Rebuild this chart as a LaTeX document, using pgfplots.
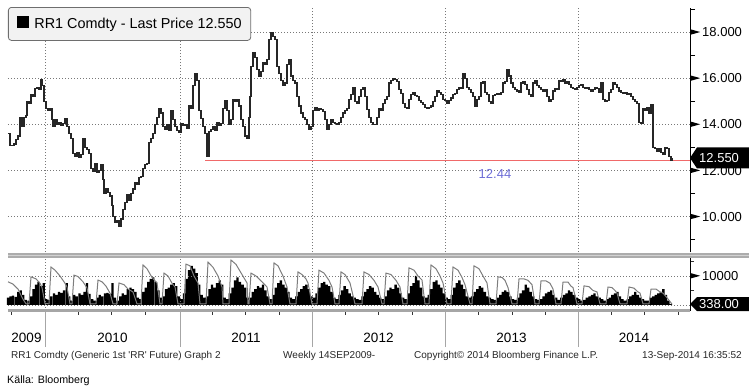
\documentclass[border=0pt]{standalone}
\usepackage{pgfplots}
\pgfplotsset{compat=1.18}
\usepackage{pgfplotstable}
\usepackage{fontspec}
\setmainfont{Liberation Sans}
\definecolor{gridgray}{RGB}{120,120,120}
\definecolor{redline}{RGB}{240,105,105}
\definecolor{lbl}{RGB}{110,110,215}
\definecolor{oigray}{RGB}{125,125,125}
\definecolor{legfill}{RGB}{242,242,242}
\definecolor{legdraw}{RGB}{110,110,110}

\pgfplotstableread{
x y
8 13.60
10 13.10
12 13.10
14 13.15
16 13.35
18 13.50
20 14.30
22 13.90
24 14.30
26 14.40
27 15.00
29 14.90
31 15.30
33 15.20
35 15.55
37 15.60
39 15.50
41 15.95
42 15.70
44 15.00
46 14.70
48 14.60
50 14.70
52 14.20
53 13.90
55 14.20
57 14.00
59 14.10
61 13.95
63 14.05
65 14.25
67 13.90
69 13.60
71 13.40
73 12.75
75 12.60
77 12.80
79 12.55
81 12.70
83 13.40
85 13.00
87 12.90
89 12.75
91 12.10
93 11.95
95 12.30
97 11.90
99 12.00
101 12.25
103 11.60
104 11.00
106 11.20
108 11.05
110 10.90
112 10.50
113 10.00
115 9.75
117 9.85
119 9.60
121 9.90
123 10.30
125 10.60
127 10.95
129 10.70
131 11.00
133 11.20
135 11.50
137 11.40
139 11.70
141 11.75
143 12.10
145 12.25
147 12.30
149 13.20
151 13.40
153 13.60
155 14.00
157 14.30
159 14.70
161 14.50
163 13.90
165 13.80
167 14.00
169 13.75
171 14.60
173 14.20
175 13.90
177 13.75
179 13.65
181 14.05
183 13.95
185 14.00
187 13.85
189 14.80
191 14.70
193 15.70
195 16.20
197 15.90
199 14.60
201 14.25
203 13.90
205 13.60
207 12.60
209 13.70
211 13.80
213 13.90
215 13.75
217 14.10
219 13.95
221 14.05
223 14.70
225 15.05
227 14.60
229 14.00
231 14.20
233 15.10
235 15.00
237 15.10
239 14.80
241 14.20
243 13.90
245 13.50
247 13.40
249 14.30
250 15.20
251 16.50
253 17.10
255 16.90
257 16.40
259 16.10
261 16.30
263 16.70
265 16.60
267 16.80
269 17.70
271 18.00
273 17.80
275 17.70
277 16.50
279 16.20
281 15.90
283 15.70
285 15.80
287 16.60
289 16.80
291 16.10
293 15.90
295 15.80
297 15.20
299 14.80
301 14.50
303 14.30
305 14.20
307 14.00
309 13.80
311 13.90
313 14.60
315 14.75
317 14.60
319 14.70
321 14.65
323 14.55
325 14.20
327 13.80
329 14.00
331 14.20
333 14.10
335 14.05
337 14.00
339 14.10
341 14.30
343 14.50
345 14.60
347 14.70
349 15.10
351 15.30
353 15.60
355 15.00
357 14.90
359 15.20
361 15.50
363 15.60
365 15.20
367 14.65
369 14.30
371 14.10
373 14.00
375 14.00
377 14.30
379 14.70
381 14.60
383 14.90
385 15.10
387 15.20
389 15.80
391 15.90
393 16.00
395 15.95
397 15.85
399 15.50
401 15.35
403 14.90
405 14.75
407 14.70
409 15.10
411 15.30
413 15.40
415 15.25
417 15.20
419 15.05
421 14.95
423 14.85
425 14.75
427 14.70
429 14.75
431 14.80
433 15.00
435 15.20
437 15.45
439 15.40
441 15.30
443 15.10
445 15.05
447 14.90
449 15.05
451 15.15
453 15.30
455 15.35
457 15.50
459 15.60
461 15.55
463 16.20
465 16.00
467 15.60
469 15.50
471 15.40
473 15.20
475 14.80
477 15.10
479 15.20
481 15.80
483 15.85
485 15.40
487 15.30
489 15.00
491 14.90
493 15.25
495 15.30
497 15.35
499 15.30
501 15.40
503 15.80
505 15.85
507 16.40
509 16.10
511 15.80
513 15.60
515 15.50
517 15.45
519 15.40
521 15.80
523 15.85
525 15.75
527 15.50
529 15.30
531 15.20
533 15.80
535 15.90
537 15.70
539 15.60
541 15.50
543 15.45
545 15.50
547 15.20
549 15.00
551 15.10
553 15.45
555 15.55
557 15.50
559 15.90
561 15.85
563 15.95
565 15.80
567 15.85
569 15.75
571 15.60
573 15.55
575 15.50
577 15.60
579 15.70
581 15.75
583 15.60
585 15.55
587 15.60
589 15.50
591 15.45
593 15.50
595 15.60
597 15.55
599 15.40
601 15.80
603 15.10
605 15.00
607 15.05
609 15.40
611 15.50
613 15.80
615 15.75
617 15.60
619 15.45
621 15.40
623 15.35
625 15.40
627 15.30
629 15.35
631 15.20
633 15.10
635 15.00
637 14.90
639 14.10
641 14.05
643 14.70
645 14.60
647 14.75
649 14.50
651 14.85
653 13.00
655 12.95
657 12.85
659 12.95
661 12.80
663 12.70
665 13.00
667 12.95
669 12.60
671 12.45
672 12.55
}\price

\pgfplotstableread[row sep=\\]{
w v\\
0 2500\\ 1 3000\\ 2 3200\\ 3 2800\\ 4 4500\\ 5 5000\\ 6 3500\\ 7 1800\\
8 1500\\ 9 3000\\ 10 5500\\ 11 7000\\ 12 8000\\ 13 6500\\ 14 7500\\ 15 2000\\
16 1800\\ 17 3000\\ 18 4000\\ 19 3500\\ 20 4500\\ 21 4200\\ 22 5000\\ 23 7500\\ 24 3000\\
25 1500\\ 26 3500\\ 27 3000\\ 28 4000\\ 29 3500\\ 30 4500\\ 31 7500\\ 32 3800\\ 33 2000\\ 34 1500\\
35 2500\\ 36 3500\\ 37 3000\\ 38 4000\\ 39 4200\\ 40 3800\\ 41 7500\\ 42 2500\\
43 1500\\ 44 3000\\ 45 4000\\ 46 3500\\ 47 5500\\ 48 6000\\ 49 5500\\ 50 4500\\ 51 2500\\
52 2000\\ 53 4500\\ 54 6000\\ 55 8000\\ 56 9000\\ 57 9500\\ 58 8000\\ 59 5000\\ 60 2500\\
61 3000\\ 62 5500\\ 63 6000\\ 64 7000\\ 65 7500\\ 66 6500\\ 67 3000\\ 68 2000\\
69 4000\\ 70 9000\\ 71 12000\\ 72 13500\\ 73 12500\\ 74 11000\\ 75 7000\\ 76 3500\\ 77 2500\\
78 3000\\ 79 5500\\ 80 7000\\ 81 6000\\ 82 7500\\ 83 8500\\ 84 7000\\ 85 2500\\ 86 2000\\
87 4000\\ 88 6000\\ 89 8500\\ 90 9500\\ 91 8000\\ 92 7000\\ 93 6000\\ 94 2500\\
95 2500\\ 96 4500\\ 97 5500\\ 98 6500\\ 99 6000\\ 100 7000\\ 101 5000\\ 102 3000\\ 103 2000\\
104 3500\\ 105 6000\\ 106 7500\\ 107 8500\\ 108 7000\\ 109 6000\\ 110 4500\\ 111 2500\\ 112 2000\\
113 3000\\ 114 4500\\ 115 5500\\ 116 6500\\ 117 7000\\ 118 5500\\ 119 3000\\ 120 2500\\
121 4000\\ 122 6000\\ 123 7500\\ 124 8000\\ 125 7000\\ 126 6500\\ 127 4500\\ 128 2500\\ 129 2000\\
130 3500\\ 131 5000\\ 132 6500\\ 133 5500\\ 134 4000\\ 135 3000\\ 136 2500\\ 137 2000\\ 138 1800\\
139 3000\\ 140 4500\\ 141 5500\\ 142 6500\\ 143 6000\\ 144 4500\\ 145 3500\\ 146 2500\\ 147 2000\\
148 3000\\ 149 5000\\ 150 6000\\ 151 5500\\ 152 7000\\ 153 6000\\ 154 4000\\ 155 2500\\ 156 2000\\
157 4000\\ 158 6500\\ 159 7500\\ 160 10000\\ 161 8500\\ 162 6000\\ 163 3000\\ 164 2500\\
165 3500\\ 166 5500\\ 167 8000\\ 168 8500\\ 169 7000\\ 170 6000\\ 171 4000\\ 172 2500\\ 173 2000\\
174 3500\\ 175 6000\\ 176 7500\\ 177 8500\\ 178 7000\\ 179 5500\\ 180 3000\\ 181 2500\\
182 3000\\ 183 4500\\ 184 5500\\ 185 6500\\ 186 6000\\ 187 4500\\ 188 3000\\ 189 2500\\ 190 2000\\ 191 1800\\
192 2500\\ 193 3500\\ 194 4500\\ 195 5000\\ 196 4500\\ 197 3000\\ 198 2000\\ 199 1800\\
200 2500\\ 201 4000\\ 202 5000\\ 203 7000\\ 204 6000\\ 205 4500\\ 206 3000\\ 207 2000\\ 208 1800\\
209 2000\\ 210 3000\\ 211 4000\\ 212 4500\\ 213 5000\\ 214 3500\\ 215 2500\\ 216 1800\\
217 2500\\ 218 3500\\ 219 4000\\ 220 5000\\ 221 4500\\ 222 3500\\ 223 2500\\ 224 2000\\ 225 1500\\
226 1800\\ 227 2500\\ 228 3000\\ 229 3500\\ 230 4000\\ 231 3000\\ 232 2500\\ 233 2000\\ 234 1500\\
235 2000\\ 236 2500\\ 237 3500\\ 238 4000\\ 239 4500\\ 240 3000\\ 241 2000\\ 242 1500\\
243 2000\\ 244 3000\\ 245 3500\\ 246 4500\\ 247 3500\\ 248 2500\\ 249 2000\\ 250 1500\\ 251 1500\\
252 2500\\ 253 3000\\ 254 3500\\ 255 4000\\ 256 4500\\ 257 5500\\ 258 3500\\ 259 1500\\ 260 338\\
}\vol

\pgfplotstableread{
x y
8 8000
13 7200
18 5500
23 2000
26 400
29 400
31 9700
36 9000
40 7500
42 6000
45 500
49 400
51 13100
55 12000
60 10000
65 7500
67 6200
70 400
72 400
74 10300
78 9800
83 8000
87 5900
90 400
96 400
98 8600
102 8000
106 6500
110 4100
113 400
117 400
119 7600
124 7000
128 5500
133 4500
137 400
141 400
143 13800
147 12500
152 9500
157 7600
160 400
162 400
164 11000
168 10000
172 7500
175 6200
178 400
184 400
186 14100
190 13500
194 10000
198 7600
200 400
206 400
208 14800
213 13000
218 10000
222 6200
223 400
229 400
231 15500
236 14000
242 10500
247 7600
248 400
249 400
251 11000
256 10000
262 8000
267 6200
270 400
272 400
274 14500
278 13500
283 10000
287 6200
290 400
296 400
298 11400
302 10500
306 9000
308 7600
312 400
317 400
319 12000
324 11000
329 8500
332 6200
335 400
339 400
341 11400
345 10500
350 7600
355 400
362 400
364 11400
369 10500
374 8500
378 6200
382 400
384 400
386 11000
391 10500
396 8500
400 6200
403 400
407 400
409 12800
414 12000
418 10000
422 8600
425 400
429 400
431 13800
436 12500
440 10000
443 7600
447 400
451 400
453 13100
458 12000
462 9500
465 7000
470 400
472 400
474 13500
479 12500
483 10000
487 7600
490 400
496 400
498 9700
502 9500
505 8500
508 6000
512 400
517 400
519 9000
524 9000
528 8500
532 7000
535 400
539 400
541 8300
546 8300
550 7500
553 5500
556 400
561 400
563 7900
568 7900
571 6500
573 6000
577 400
582 400
584 6600
589 6300
593 5000
597 4500
600 400
606 400
608 6200
612 6000
615 5000
617 4100
620 400
627 400
629 6200
634 5800
638 4500
640 4100
643 400
649 400
651 5500
656 5500
660 4500
663 4100
667 2500
672 300
}\oi

\newcommand{\tri}{\tikz[baseline=-0.36em]\fill[black] (0pt,-2.8pt)--(10pt,0pt)--(0pt,2.8pt)--cycle;}
\newcommand{\tickfont}{\fontsize{13}{15}\selectfont}

\begin{document}
\begin{tikzpicture}
\path[use as bounding box] (0pt,0pt) rectangle (749pt,-388pt);

% ---------- main price panel ----------
\begin{axis}[
  name=main,
  at={(8pt,-8pt)}, anchor=north west,
  scale only axis, width=682pt, height=244pt,
  xmin=8, xmax=690, ymin=8.47, ymax=19.05,
  axis x line*=bottom, axis y line*=right,
  x axis line style={draw=none},
  y axis line style={-, black, line width=0.8pt},
  xtick={45,180,312,445,578}, xticklabels={},
  xtick style={draw=none},
  ytick={10,12,14,16,18}, minor ytick={9,11,13,15,17,19},
  major tick length=0pt, minor tick length=5pt, tick align=outside,
  ytick style={black, line width=0.7pt},
  xmajorgrids, ymajorgrids,
  grid style={dash pattern=on 1pt off 2pt, gridgray, line width=0.8pt},
  /pgf/number format/assume math mode=true,
  yticklabel style={inner xsep=0pt, font=\tickfont, anchor=west},
  yticklabel={\tri\hspace{2pt}\pgfmathprintnumber[fixed,fixed zerofill,precision=3]{\tick}},
  clip=false,
]
\addplot[redline, line width=1.4pt] coordinates {(205,12.44) (690,12.44)};
\addplot[const plot, black!85, line width=1.15pt] table[x=x,y=y]{\price};
\node[text=lbl, font=\tickfont] at (axis cs:495,11.85) {12.44};
\coordinate (lastp) at (axis cs:690,12.55);
\node[draw=legdraw, fill=legfill, rounded corners=3pt, line width=0.8pt,
      anchor=north west, minimum width=241pt, minimum height=33pt, inner xsep=9pt,
      font=\fontsize{14.4}{16}\selectfont] at ([yshift=1pt]rel axis cs:0,1)
      {\rule{12pt}{12pt}\hspace{5pt}RR1 Comdty - Last Price 12.550};
\end{axis}

% ---------- separator ----------
\fill[gray!65] (8pt,-253pt) rectangle (749pt,-257.5pt);
\draw[gray!35, line width=0.8pt] (8pt,-255.3pt) -- (749pt,-255.3pt);

% ---------- volume bars ----------
\begin{axis}[
  at={(8pt,-258pt)}, anchor=north west,
  scale only axis, width=682pt, height=52.5pt,
  xmin=0, xmax=267.45, ymin=-1900, ymax=16200,
  hide axis, clip=false,
]
\addplot[ybar, bar width=0.9, fill=black, draw=none] table[x=w,y=v]{\vol};
\end{axis}

% ---------- volume frame + open interest ----------
\begin{axis}[
  at={(8pt,-258pt)}, anchor=north west,
  scale only axis, width=682pt, height=52.5pt,
  xmin=8, xmax=690, ymin=-1900, ymax=16200,
  scaled y ticks=false,
  axis x line*=bottom, axis y line*=right,
  x axis line style={-, gray!70, line width=2.3pt},
  y axis line style={-, black, line width=0.8pt},
  xtick={45,180,312,445,578}, xticklabels={},
  minor xtick={11.7,78.3,111.7,145,212,245,279,345,378,412,478,512,545,611,644,678},
  ytick={10000}, minor ytick={5000,15000},
  extra y ticks={0}, extra y tick labels={},
  major tick length=0pt, minor tick length=4pt, tick align=outside,
  tick style={black!80, line width=0.7pt},
  xmajorgrids, ymajorgrids,
  grid style={dash pattern=on 1pt off 2pt, gridgray, line width=0.8pt},
  yticklabel style={inner xsep=0pt, font=\tickfont, anchor=west},
  yticklabels={{\tri\hspace{2pt}10000}},
  clip=false,
]
\addplot[oigray, line width=1pt] table[x=x,y=y]{\oi};
\coordinate (lastv) at (axis cs:690,338);
\end{axis}

% ---------- last-value boxes ----------
\fill[black] (lastp) -- ++(7pt,10.5pt) -- ++(52pt,0pt) -- ++(0pt,-21pt) -- ++(-52pt,0pt) -- cycle;
\node[text=white, font=\tickfont, anchor=west, inner sep=0pt] at ([xshift=9pt]lastp) {12.550};
\fill[black] (lastv) -- ++(7pt,7pt) -- ++(52pt,0pt) -- ++(0pt,-14pt) -- ++(-52pt,0pt) -- cycle;
\node[text=white, font=\tickfont, anchor=west, inner sep=0pt] at ([xshift=9pt]lastv) {338.00};

% ---------- year labels ----------
\begin{axis}[
  at={(8pt,-311pt)}, anchor=north west,
  scale only axis, width=682pt, height=36pt,
  xmin=8, xmax=690, ymin=0, ymax=1,
  axis line style={draw=none}, tick style={draw=none}, ytick=\empty,
  xtick={45,180,312,445,578}, xticklabels={},
  xmajorgrids, grid style={solid, gray!70, line width=0.8pt},
  extra x ticks={26.5,112.5,246,378.5,511.5,634},
  extra x tick labels={2009,2010,2011,2012,2013,2014},
  extra x tick style={grid=none, tick label style={anchor=base, yshift=4.3pt, font=\fontsize{13.5}{15}\selectfont}},
]
\end{axis}

% ---------- footer ----------
\begin{scope}[every node/.style={anchor=base west, inner sep=0pt, text=black!85, font=\fontsize{10}{12}\selectfont}]
\node at (11pt,-358.5pt) {RR1 Comdty (Generic 1st \textquotesingle RR\textquotesingle\ Future) Graph 2};
\node at (283pt,-358.5pt) {Weekly 14SEP2009-};
\node at (414pt,-358.5pt) {Copyright\textcopyright{} 2014 Bloomberg Finance L.P.};
\node at (642pt,-358.5pt) {13-Sep-2014 16:35:52};
\end{scope}
\node[anchor=base west, inner sep=0pt, font=\fontsize{10.7}{12}\selectfont] at (7pt,-383pt) {Källa: Bloomberg};
\end{tikzpicture}
\end{document}
